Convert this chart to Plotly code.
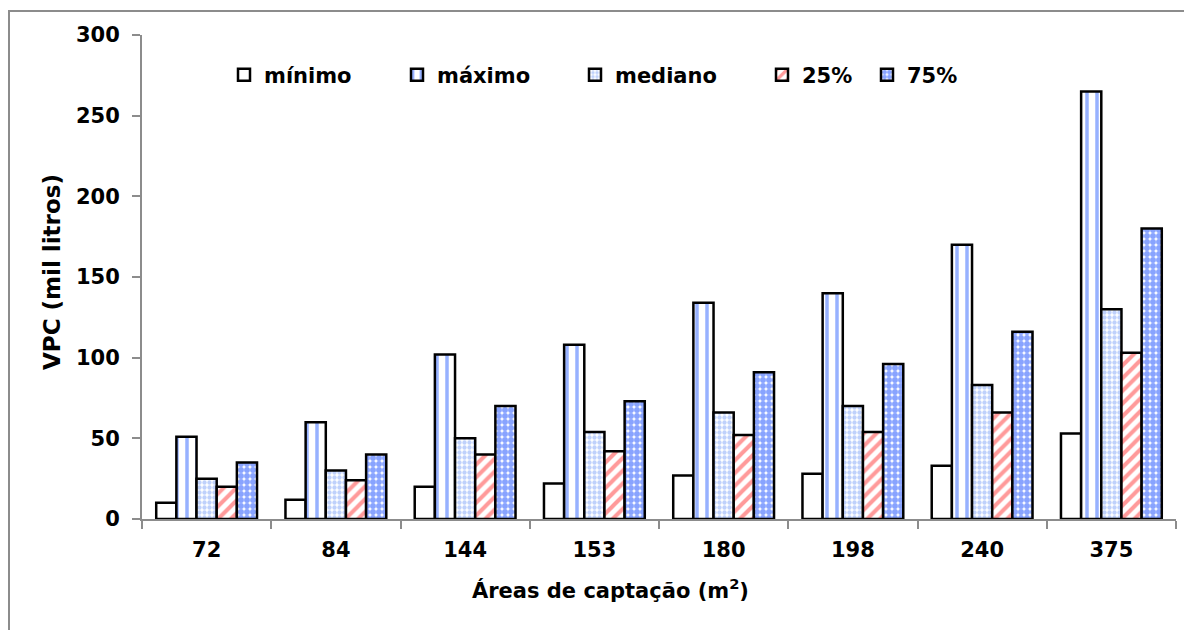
import plotly.graph_objects as go

# Catchment areas (m²) and rainwater volume statistics (thousand litres)
areas = ["72", "84", "144", "153", "180", "198", "240", "375"]
minimo = [10, 12, 20, 22, 27, 28, 33, 53]
maximo = [51, 60, 102, 108, 134, 140, 170, 265]
mediano = [25, 30, 50, 54, 66, 70, 83, 130]
p25 = [20, 24, 40, 42, 52, 54, 66, 103]
p75 = [35, 40, 70, 73, 91, 96, 116, 180]
y_ticks = [0, 50, 100, 150, 200, 250, 300]

FONT = "DejaVu Sans, Liberation Sans, Arial"
W, H = 1184, 630
L, R, T, B = 142, 8, 35, 111
PW, PH = W - L - R, H - T - B


def px_x(x):
    return (x - L) / PW


def px_y(y):
    return (H - B - y) / PH


series = [
    ("mínimo", minimo, dict(shape="", fgcolor="white", bgcolor="white")),
    ("máximo", maximo, dict(shape="|", fgcolor="#2f64ff", bgcolor="white", size=10, solidity=0.35)),
    ("mediano", mediano, dict(shape=".", fgcolor="#7fa3f7", bgcolor="white", size=5, solidity=0.6)),
    ("25%", p25, dict(shape="/", fgcolor="#ff3535", bgcolor="white", size=9, solidity=0.45)),
    ("75%", p75, dict(shape=".", fgcolor="#1148ff", bgcolor="white", size=6, solidity=0.75)),
]

legend_names = ["legend", "legend2", "legend3", "legend4", "legend5"]
legend_box_x = [238, 411, 589, 776, 881]

fig = go.Figure()
for (name, vals, pat), lg in zip(series, legend_names):
    fig.add_trace(go.Bar(
        x=areas, y=vals, name=name, legend=lg,
        marker=dict(color="white", line=dict(color="black", width=2.5), pattern=pat),
    ))

legend_common = dict(
    orientation="h", yanchor="middle", xanchor="left",
    bgcolor="rgba(0,0,0,0)", borderwidth=0,
    font=dict(family=FONT, size=21, color="black", weight="bold"),
    itemwidth=30,
)
legends = {}
for lg, bx in zip(legend_names, legend_box_x):
    legends[lg] = dict(legend_common, x=px_x(bx - 14), y=px_y(75))

fig.update_layout(
    width=W, height=H,
    margin=dict(l=L, r=R, t=T, b=B),
    paper_bgcolor="white", plot_bgcolor="white",
    barmode="group", bargap=0.22, bargroupgap=0,
    showlegend=True,
    font=dict(family=FONT, color="black"),
    **legends,
    xaxis=dict(
        type="category", tickson="boundaries",
        showline=True, linecolor="#8c8c8c", linewidth=2,
        ticks="outside", ticklen=8, tickcolor="#8c8c8c", tickwidth=2,
        tickfont=dict(family=FONT, size=21, color="black", weight="bold"),
        ticklabelstandoff=11,
        showgrid=False, zeroline=False,
    ),
    yaxis=dict(
        range=[0, 300], tickvals=y_ticks,
        showline=True, linecolor="#8c8c8c", linewidth=2,
        ticks="outside", ticklen=8, tickcolor="#8c8c8c", tickwidth=2,
        tickfont=dict(family=FONT, size=21, color="black", weight="bold"),
        ticklabelstandoff=8,
        showgrid=False, zeroline=False,
    ),
    annotations=[
        dict(text="Áreas de captação (m<sup>2</sup>)", xref="paper", yref="paper",
             x=px_x(610), y=px_y(605), showarrow=False,
             font=dict(family=FONT, size=21, color="black", weight="bold")),
        dict(text="VPC (mil litros)", xref="paper", yref="paper",
             x=px_x(37), y=px_y(272), showarrow=False, textangle=-90,
             font=dict(family=FONT, size=23, color="black", weight="bold")),
    ],
    shapes=[
        dict(type="rect", xref="paper", yref="paper",
             x0=px_x(9), x1=px_x(1200), y0=px_y(650), y1=px_y(11),
             line=dict(color="#8c8c8c", width=2), fillcolor="rgba(0,0,0,0)", layer="below"),
    ],
)

fig.write_html("out.html")
